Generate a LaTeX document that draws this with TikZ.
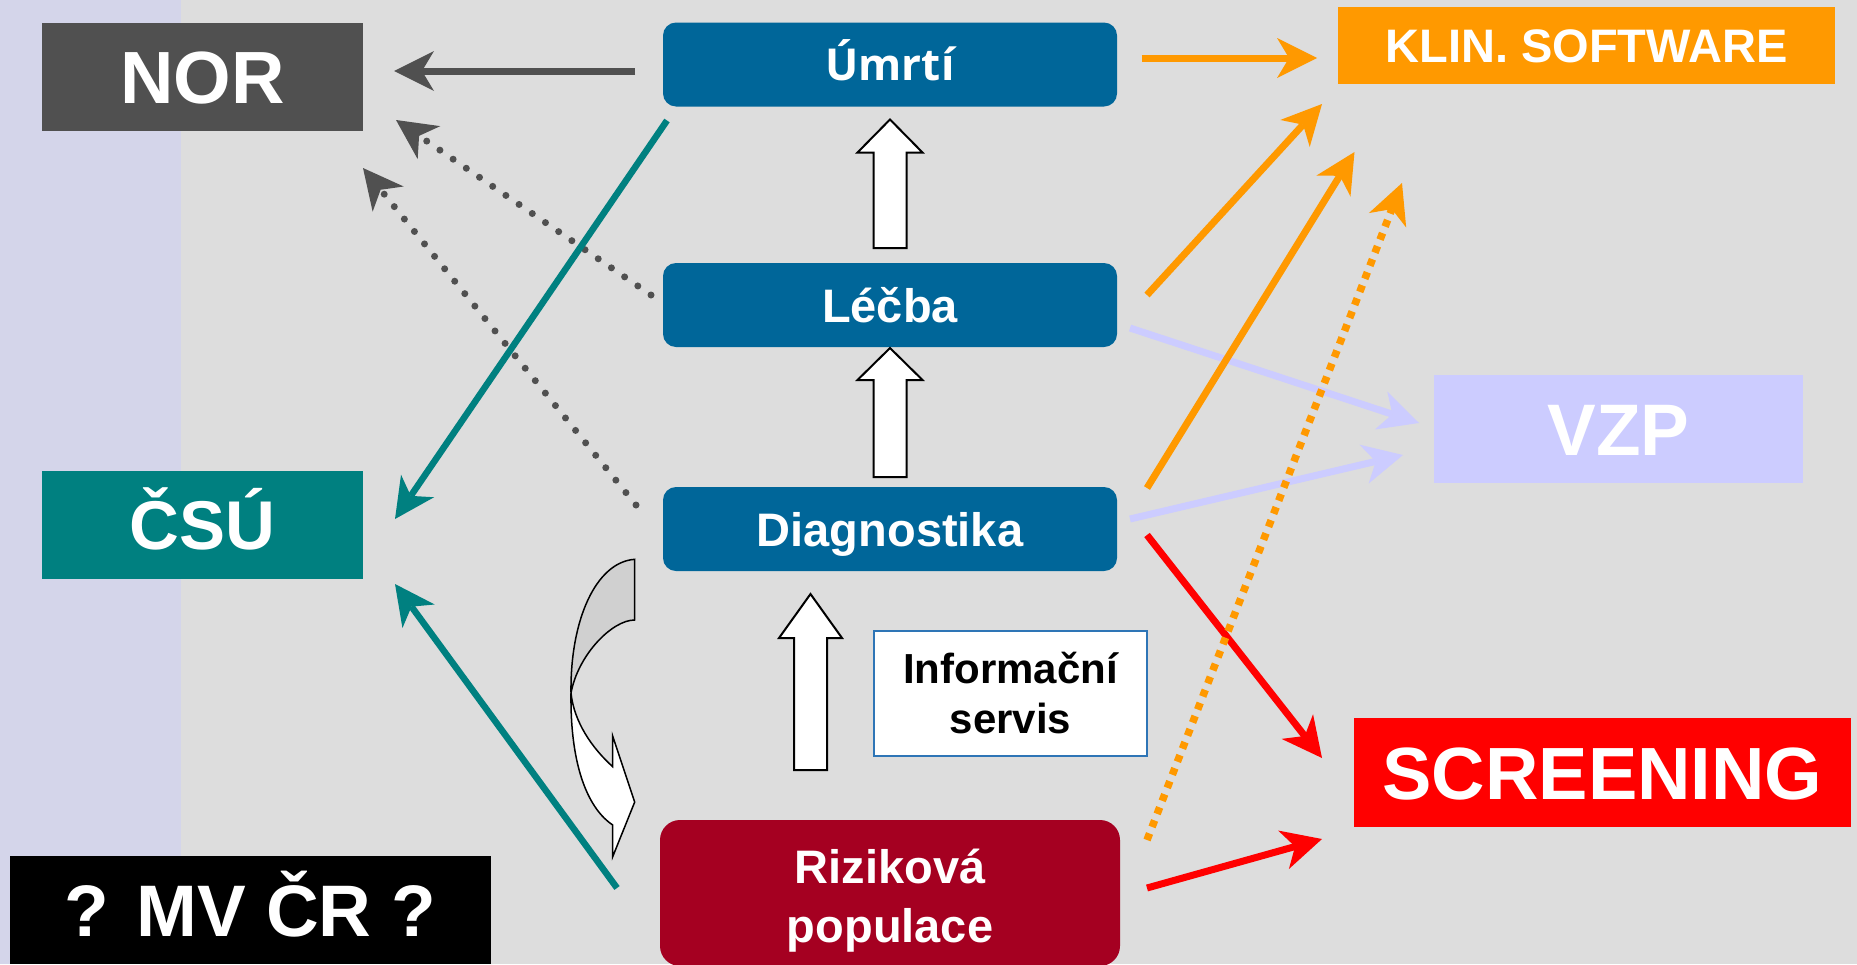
\documentclass[tikz,border=0pt]{standalone}
\usepackage{fontspec}
\setmainfont{Liberation Sans}
\newfontfamily\osans{Open Sans}
\usetikzlibrary{arrows.meta,calc}
\definecolor{bgc}{HTML}{DDDDDD}
\definecolor{bandc}{HTML}{D4D5EA}
\definecolor{norc}{HTML}{505050}
\definecolor{tealc}{HTML}{008080}
\definecolor{bluec}{HTML}{006699}
\definecolor{rizc}{HTML}{A50021}
\definecolor{orng}{HTML}{FF9900}
\definecolor{lav}{HTML}{CCCCFF}
\definecolor{redc}{HTML}{FF0000}
\definecolor{infob}{HTML}{2E75B6}
\definecolor{shadec}{HTML}{D0D0D0}
\newcommand\blkarrow[5]{\draw[blk] let \p1=(#1), \p2=(#2) in
  (\x1-#3pt,\y1) -- (\x1-#3pt,\y2-#5pt) -- (\x1-#4pt,\y2-#5pt) -- (\x1,\y2)
  -- (\x1+#4pt,\y2-#5pt) -- (\x1+#3pt,\y2-#5pt) -- (\x1+#3pt,\y1) -- cycle;}
\begin{document}
\begin{tikzpicture}[x=1pt,y=-1pt,
  sq/.style={rectangle, inner sep=0pt, outer sep=0pt, text=white},
  bluebox/.style={sq, fill=bluec, rounded corners=13pt, minimum width=454pt, minimum height=84pt,
     font={\fontsize{47}{56}\selectfont\bfseries}, text height=34pt, text depth=0pt},
  arr/.style={-{Stealth[length=40pt,width=40pt,inset=12pt,line width=0pt]}},
  grayline/.style={draw=norc, line width=7pt, arr},
  gdot/.style={draw=norc, line width=7pt, line cap=round, dash pattern=on 0pt off 16pt, arr},
  tealline/.style={draw=tealc, line width=6.5pt, arr},
  orline/.style={draw=orng, line width=7pt, arr},
  odash/.style={draw=orng, line width=7.5pt, dash pattern=on 7pt off 7pt, arr},
  lavline/.style={draw=lav, line width=7pt, arr},
  redline/.style={draw=redc, line width=7pt, arr},
  blk/.style={fill=white, draw=black, line width=2pt, line join=miter},
  curv/.style={draw=black, line width=1.5pt}
]
\useasboundingbox (0,0) rectangle (1857,964);
\fill[bgc] (0,0) rectangle (1857,964);
\fill[bandc] (0,0) rectangle (181,964);

% left boxes
\node[sq, fill=norc, minimum width=321pt, minimum height=108pt,
  font={\fontsize{74}{80}\selectfont\bfseries}, text height=53pt, text depth=0pt] (nor) at (202.5,77) {NOR};
\node[sq, fill=tealc, minimum width=321pt, minimum height=108pt,
  font={\fontsize{69}{80}\selectfont\bfseries}, text height=49pt, text depth=0pt] (csu) at (202.5,525) {ČSÚ};
\node[sq, fill=black, minimum width=481pt, minimum height=108pt,
  font={\fontsize{73}{80}\selectfont\bfseries}, text height=52pt, text depth=0pt] (mv) at (250.5,910) {? MV ČR ?};

% central column
\node[bluebox, font={\fontsize{44}{52}\selectfont\osans\bfseries}, text height=32pt] (umrti) at (890,64.5) {Úmrtí};
\node[bluebox] (lecba) at (890,305) {Léčba};
\node[bluebox] (diag) at (890,529) {Diagnostika};
\node[sq, fill=rizc, rounded corners=20pt, minimum width=460pt, minimum height=146pt, align=center,
  font={\fontsize{47}{59}\selectfont\bfseries}] (rizik) at (890,893) {\rule{0pt}{50pt}Riziková\\populace};
\node[sq, fill=white, draw=infob, line width=2pt, text=black, minimum width=273pt, minimum height=125pt,
  align=center, font={\fontsize{42}{50}\selectfont\bfseries}] (info) at (1010.5,693.5) {Informační\\servis};

% right boxes
\node[sq, fill=orng, minimum width=497pt, minimum height=77pt,
  font={\fontsize{47}{56}\selectfont\bfseries}, text height=34pt, text depth=0pt] (klin) at (1586.5,45.5) {KLIN. SOFTWARE};
\node[sq, fill=lav, minimum width=369pt, minimum height=108pt,
  font={\fontsize{73}{80}\selectfont\bfseries}, text height=52pt, text depth=0pt] (vzp) at (1618.5,429) {VZP};
\node[sq, fill=redc, minimum width=497pt, minimum height=109pt,
  font={\fontsize{74}{80}\selectfont\bfseries}, text height=53pt, text depth=0pt] (screen) at (1602.5,772.5) {SCREENING};

% block arrows
\blkarrow{$(lecba.north)+(0,-15)$}{$(umrti.south)+(0,13)$}{16.5}{32.5}{33}
\blkarrow{$(diag.north)+(0,-10)$}{$(lecba.south)+(0,1)$}{16.5}{32.5}{32}
\blkarrow{$(rizik.north)+(-79.5,-50)$}{$(diag.south)+(-79.5,23)$}{16.5}{31.5}{44}

% curved arrow from Diagnostika down to Rizikova populace
\filldraw[curv, fill=white] (571,693) .. controls (570,770) and (590,810) .. (612.7,825)
  -- (612.7,856.7) -- (634.7,802) -- (612.7,736) -- (612.7,766.7)
  .. controls (592,748) and (574,722) .. (571,693) -- cycle;
\filldraw[curv, fill=shadec] (634.7,559.3) .. controls (596,562) and (570,620) .. (571,693)
  .. controls (578,655) and (612,620) .. (634.7,620) -- cycle;

% left connectors
\draw[gdot] ($(lecba.west)+(-12,-10)$) -- ($(nor.south east)+(33,-11)$);
\draw[gdot] ($(diag.west)+(-27,-24)$) -- ($(nor.south east)+(0,37)$);
\draw[grayline] ($(umrti.west)+(-28,6.5)$) -- ($(nor.east)+(31,-6)$);
\draw[tealline] ($(umrti.south west)+(4,14)$) -- ($(csu.east)+(32,-6)$);
\draw[tealline] ($(rizik.west)+(-43,-5)$) -- ($(csu.south east)+(32,5)$);

% right connectors
\draw[lavline] ($(lecba.east)+(13,23)$) -- ($(vzp.west)+(-15,-6)$);
\draw[lavline] ($(diag.east)+(13,-10)$) -- ($(vzp.west)+(-31,26)$);
\draw[redline] ($(diag.east)+(30,6)$) -- ($(screen.west)+(-32,-14.5)$);
\draw[redline] ($(rizik.east)+(27,-5)$) -- ($(screen.west)+(-32,66.5)$);
\draw[orline] ($(umrti.east)+(24.5,-6.5)$) -- ($(klin.west)+(-21,12.5)$);
\draw[orline] ($(lecba.east)+(30,-10)$) -- ($(klin.south west)+(-16,20)$);
\draw[orline] ($(diag.east)+(30,-41)$) -- ($(klin.south west)+(16.5,68)$);
\draw[odash] ($(rizik.east)+(27,-53)$) -- ($(klin.south west)+(64,99)$);
\end{tikzpicture}
\end{document}
